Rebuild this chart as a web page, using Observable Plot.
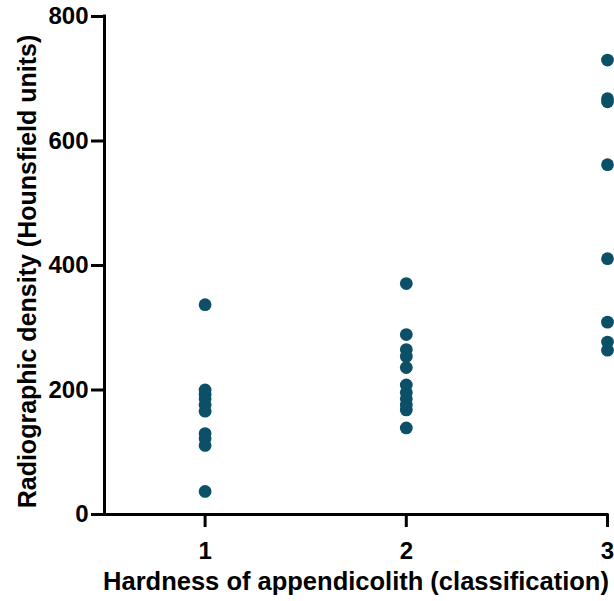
<!DOCTYPE html>
<html>
<head>
<meta charset="utf-8">
<script src="https://cdn.jsdelivr.net/npm/d3@7"></script>
<script src="https://cdn.jsdelivr.net/npm/@observablehq/plot@0.6"></script>
<style>
  html, body { margin: 0; padding: 0; background: #fff; }
  svg { display: block; }
</style>
</head>
<body>
<div id="chart"></div>
<script>
const classes = [1, 2, 3];
const class1Values = [337, 200, 193, 186, 176, 166, 130, 122, 111, 37];
const class2Values = [371, 289, 265, 254, 236, 208, 196, 186, 176, 168, 139];
const class3Values = [730, 668, 663, 562, 411, 309, 277, 264];
const yTicks = [0, 200, 400, 600, 800];
const xLabel = "Hardness of appendicolith (classification)";
const yLabel = "Radiographic density (Hounsfield units)";

const seriesValues = [class1Values, class2Values, class3Values];
const data = classes.flatMap((c, i) => seriesValues[i].map(v => ({cls: c, hu: v})));

const font = "'Liberation Sans', Arial, Helvetica, sans-serif";

const chart = Plot.plot({
  width: 614,
  height: 601,
  marginLeft: 104,
  marginRight: 7,
  marginTop: 16,
  marginBottom: 87,
  style: {fontFamily: font, color: "#000", background: "#fff"},
  x: {domain: [0.5, 3]},
  y: {domain: [0, 800]},
  marks: [
    Plot.ruleY([0], {strokeWidth: 3, stroke: "#000", strokeLinecap: "square"}),
    Plot.ruleX([0.5], {strokeWidth: 3, stroke: "#000", strokeLinecap: "square"}),
    Plot.axisY({ticks: yTicks, tickSize: 13, tickPadding: 3, strokeWidth: 3, fontSize: 24, fontWeight: "bold", label: null, tickFormat: d => String(d)}),
    Plot.axisX({ticks: classes, tickSize: 13, tickPadding: 14, strokeWidth: 3, fontSize: 24, fontWeight: "bold", label: null, tickFormat: d => String(d)}),
    Plot.dot(data, {x: "cls", y: "hu", r: 6.4, fill: "#0c5068", stroke: "none", clip: false}),
    Plot.text([xLabel], {frameAnchor: "bottom", dy: 67, fontSize: 25.5, fontWeight: "bold", fill: "#000", textAnchor: "middle", lineAnchor: "middle", text: d => d}),
    Plot.text([yLabel], {frameAnchor: "left", dx: -77, dy: 6, rotate: -90, fontSize: 25, fontWeight: "bold", fill: "#000", textAnchor: "middle", lineAnchor: "middle", text: d => d})
  ]
});
document.getElementById("chart").append(chart);
</script>
</body>
</html>
